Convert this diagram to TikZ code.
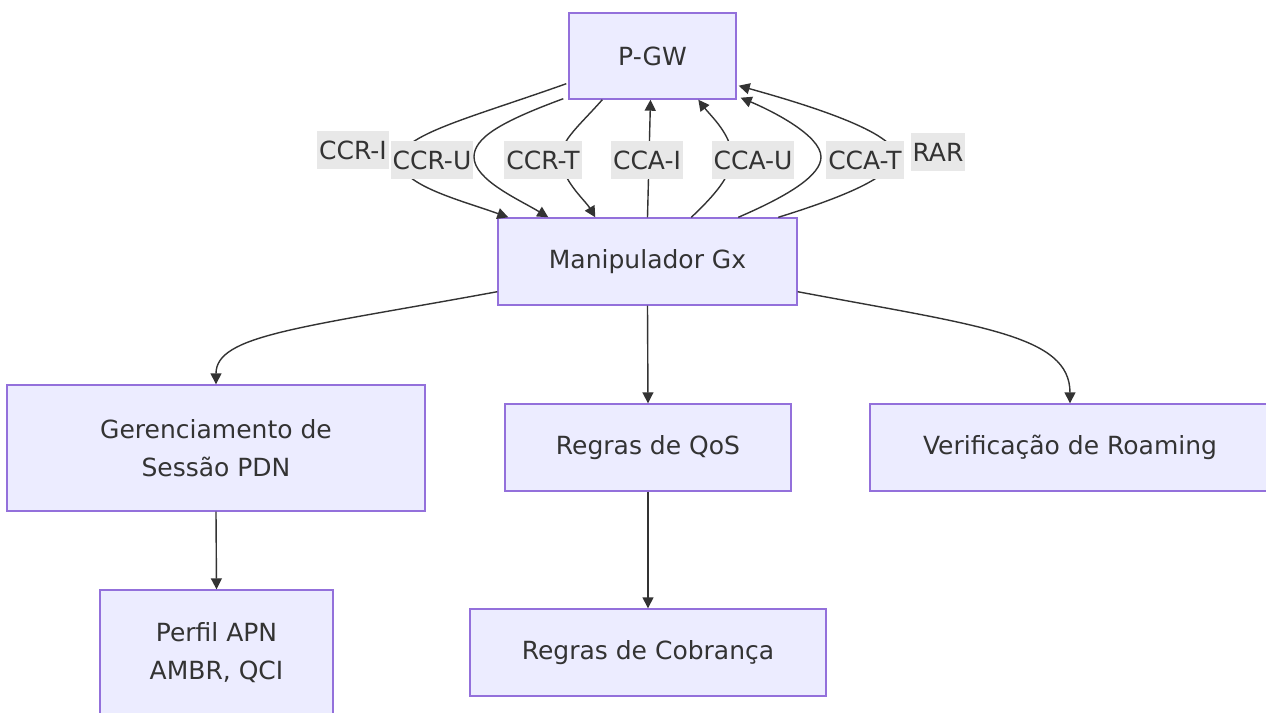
\documentclass[tikz,border=0pt]{standalone}
\usepackage{fontspec}
\setmainfont{DejaVu Sans}
\usetikzlibrary{arrows.meta,calc}
\definecolor{boxfill}{HTML}{ECECFF}
\definecolor{boxline}{HTML}{9370DB}
\definecolor{txt}{HTML}{333333}
\definecolor{edgecol}{HTML}{333333}
\definecolor{lblbg}{HTML}{E8E8E8}
\begin{document}
\begin{tikzpicture}[x=0.5pt,y=-0.5pt,
 box/.style={draw=boxline, fill=boxfill, line width=0.7pt, text=txt, font=\fontsize{12.5}{19}\selectfont, align=center, inner sep=0pt},
 conn/.style={draw=edgecol, line width=0.7pt, -{Triangle[length=5.5pt,width=5.5pt]}},
 lbl/.style={fill=lblbg, text=txt, font=\fontsize{12.5}{19}\selectfont, inner xsep=1pt, inner ysep=0pt, minimum height=19pt}]
\useasboundingbox (0,0) rectangle (1266,713);
\fill[white] (0,0) rectangle (1266,713);

\node[box, minimum width=83.5pt, minimum height=43pt] (pgw) at (652.5,56) {P-GW};
\node[box, minimum width=149.5pt, minimum height=43.5pt] (gx) at (647.5,261.5) {Manipulador Gx};
\node[box, minimum width=209pt, minimum height=63pt] (ges) at (216,448) {Gerenciamento de\\Sessão PDN};
\node[box, minimum width=143pt, minimum height=43.5pt] (qos) at (648,447.5) {Regras de QoS};
\node[box, minimum width=200pt, minimum height=43.5pt] (roam) at (1070,447.5) {Verificação de Roaming};
\node[box, minimum width=116.5pt, minimum height=63pt] (apn) at (216.5,653) {Perfil APN\\AMBR, QCI};
\node[box, minimum width=178pt, minimum height=43.5pt] (cob) at (648,652.5) {Regras de Cobrança};

% P-GW -> Gx requests
\draw[conn] ($(pgw.south west)+(-2,-16)$) .. controls (470,118) and (400,135) .. (400,160) .. controls (400,185) and (460,200) .. ($(gx.north west)+(11,0)$);
\draw[conn] ($(pgw.south west)+(-5,-1)$) .. controls (500,122) and (474,138) .. (474,157) .. controls (474,180) and (520,200) .. ($(gx.north west)+(51,0)$);
\draw[conn] ($(pgw.south west)+(34,0)$) .. controls (580,125) and (561,140) .. (561,157) .. controls (561,180) and (585,200) .. ($(gx.north west)+(98,0)$);
% Gx -> P-GW answers
\draw[conn] (gx.north) -- ($(pgw.south)+(-2,0)$);
\draw[conn] ($(gx.north west)+(194,0)$) .. controls (715,195) and (732,175) .. (732,157) .. controls (732,135) and (710,115) .. ($(pgw.south west)+(130,0)$);
\draw[conn] ($(gx.north west)+(241,0)$) .. controls (790,195) and (821,175) .. (821,157) .. controls (821,135) and (770,110) .. ($(pgw.south east)+(4,-2)$);
\draw[conn] ($(gx.north west)+(281,0)$) .. controls (850,195) and (895,175) .. (895,155) .. controls (895,130) and (790,100) .. ($(pgw.south east)+(2,-14)$);

% Gx -> lower boxes
\draw[conn] ($(gx.south west)+(0,-14)$) .. controls (300,328) and (216,335) .. (ges.north);
\draw[conn] (gx.south) -- (qos.north);
\draw[conn] ($(gx.south east)+(0,-14)$) .. controls (980,326) and (1070,335) .. (roam.north);
\draw[conn] (ges.south) -- (apn.north);
\draw[conn] (qos.south) -- (cob.north);

% labels
\node[lbl] (l1) at (353,150) {CCR-I};
\node[lbl] (l2) at (432,160) {CCR-U};
\node[lbl] (l3) at (543,160) {CCR-T};
\node[lbl] (l4) at (647,160) {CCA-I};
\node[lbl] (l5) at (753,160) {CCA-U};
\node[lbl] (l6) at (865,160) {CCA-T};
\node[lbl] (l7) at (938,152) {RAR};
\end{tikzpicture}
\end{document}
